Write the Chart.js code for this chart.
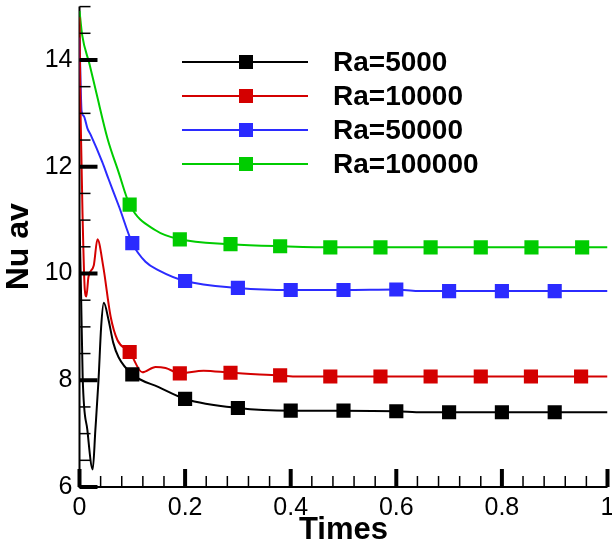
<!DOCTYPE html>
<html>
<head>
<meta charset="utf-8">
<script src="https://cdn.jsdelivr.net/npm/chart.js@4.4.1/dist/chart.umd.min.js"></script>
<style>
  html, body { margin: 0; padding: 0; background: #fff; }
  #wrap { width: 612px; height: 546px; }
</style>
</head>
<body>
<div id="wrap"><canvas id="nuChart" width="612" height="546"></canvas></div>
<script>
// series labels
const seriesNames = ['Ra=5000', 'Ra=10000', 'Ra=50000', 'Ra=100000'];
const seriesColors = ['#000000', '#d40000', '#2b2bff', '#00cc00'];

// Ra=5000
const t5000 = [0, 0.003, 0.006, 0.015, 0.025, 0.030, 0.036, 0.041, 0.046, 0.055, 0.064, 0.074, 0.1, 0.15, 0.2, 0.3, 0.4, 0.5, 0.6, 0.65, 0.7, 0.8, 0.9, 1.0];
const nu5000 = [11.0, 9.6, 8.06, 7.06, 6.33, 7.06, 8.0, 9.0, 9.45, 9.13, 8.70, 8.43, 8.11, 7.87, 7.65, 7.48, 7.43, 7.43, 7.42, 7.40, 7.40, 7.40, 7.40, 7.40];
const mk5000 = [0.1, 0.2, 0.3, 0.4, 0.5, 0.6, 0.7, 0.8, 0.9];

// Ra=10000
const t10000 = [0, 0.002, 0.006, 0.010, 0.013, 0.017, 0.027, 0.034, 0.045, 0.059, 0.072, 0.095, 0.119, 0.144, 0.163, 0.19, 0.235, 0.286, 0.38, 0.413, 0.475, 0.57, 0.665, 0.76, 0.855, 0.95, 1.0];
const nu10000 = [14.8, 13.0, 11.0, 9.7, 9.57, 9.94, 10.15, 10.64, 10.13, 9.19, 8.75, 8.53, 8.15, 8.25, 8.23, 8.13, 8.18, 8.14, 8.09, 8.07, 8.07, 8.07, 8.07, 8.07, 8.07, 8.07, 8.07];
const mk10000 = [0.095, 0.19, 0.286, 0.38, 0.475, 0.57, 0.665, 0.76, 0.855, 0.95];

// Ra=50000
const t50000 = [0, 0.004, 0.008, 0.015, 0.021, 0.043, 0.055, 0.075, 0.1, 0.125, 0.15, 0.2, 0.3, 0.4, 0.5, 0.6, 0.64, 0.7, 0.8, 0.9, 1.0];
const nu50000 = [14.42, 13.04, 12.95, 12.72, 12.6, 12.09, 11.77, 11.25, 10.57, 10.22, 10.06, 9.86, 9.73, 9.69, 9.69, 9.70, 9.67, 9.67, 9.67, 9.67, 9.67];
const mk50000 = [0.1, 0.2, 0.3, 0.4, 0.5, 0.6, 0.7, 0.8, 0.9];

// Ra=100000
const t100000 = [0, 0.005, 0.019, 0.032, 0.053, 0.074, 0.095, 0.144, 0.19, 0.286, 0.38, 0.475, 0.57, 0.665, 0.76, 0.856, 0.952, 1.0];
const nu100000 = [14.92, 14.47, 13.92, 13.38, 12.53, 11.9, 11.29, 10.81, 10.64, 10.55, 10.51, 10.49, 10.49, 10.49, 10.49, 10.49, 10.49, 10.49];
const mk100000 = [0.095, 0.19, 0.286, 0.38, 0.475, 0.57, 0.665, 0.76, 0.856, 0.952];

// tick labels
const xTicks = [0, 0.2, 0.4, 0.6, 0.8, 1];
const yTicks = [6, 8, 10, 12, 14];

const allT = [t5000, t10000, t50000, t100000];
const allNu = [nu5000, nu10000, nu50000, nu100000];
const allMk = [mk5000, mk10000, mk50000, mk100000];

const FONT = "'Liberation Sans', Arial, sans-serif";
const MARK_R = 10;

function isMarker(list, x) {
  return list.some(m => Math.abs(m - x) < 1e-9);
}

const datasets = seriesNames.map((name, i) => ({
  label: name,
  data: allT[i].map((t, j) => ({ x: t, y: allNu[i][j] })),
  borderColor: seriesColors[i],
  backgroundColor: seriesColors[i],
  borderWidth: 2,
  showLine: true,
  cubicInterpolationMode: 'monotone',
  pointStyle: 'rect',
  pointRadius: ctx => isMarker(allMk[i], ctx.raw.x) ? MARK_R : 0,
  pointHoverRadius: 0,
  pointBorderWidth: 0
}));

// axis lines + inward ticks, like the original plot
const axisPlugin = {
  id: 'inwardAxes',
  beforeDatasetsDraw(chart) {
    const { ctx, chartArea: a } = chart;
    ctx.save();
    ctx.strokeStyle = '#000';
    ctx.lineWidth = 2;
    ctx.beginPath();
    ctx.moveTo(a.left, a.top);
    ctx.lineTo(a.left, a.bottom);
    ctx.lineTo(a.right, a.bottom);
    ctx.stroke();
    ctx.restore();
  },
  afterDatasetsDraw(chart) {
    const { ctx, chartArea: a, scales: { x, y } } = chart;
    ctx.save();
    ctx.strokeStyle = '#000';
    // minor
    ctx.lineWidth = 1.5;
    for (let k = 0; k <= 25; k++) {
      const px = x.getPixelForValue(k * 0.04);
      ctx.beginPath(); ctx.moveTo(px, a.bottom); ctx.lineTo(px, a.bottom - 11); ctx.stroke();
    }
    for (let k = 0; k <= 18; k++) {
      const py = y.getPixelForValue(6 + k * 0.5);
      ctx.beginPath(); ctx.moveTo(a.left, py); ctx.lineTo(a.left + 11, py); ctx.stroke();
    }
    // major
    ctx.lineWidth = 4;
    xTicks.forEach(v => {
      const px = x.getPixelForValue(v);
      ctx.beginPath(); ctx.moveTo(px, a.bottom); ctx.lineTo(px, a.bottom - 18); ctx.stroke();
    });
    yTicks.forEach(v => {
      const py = y.getPixelForValue(v);
      ctx.beginPath(); ctx.moveTo(a.left, py); ctx.lineTo(a.left + 18, py); ctx.stroke();
    });
    ctx.restore();
  }
};

// legend drawn as line + square marker + bold text
const legendPlugin = {
  id: 'lineLegend',
  afterDraw(chart) {
    const ctx = chart.ctx;
    const rows = [62, 96, 130, 164];
    ctx.save();
    chart.data.datasets.forEach((ds, i) => {
      const yy = rows[i];
      ctx.strokeStyle = ds.borderColor;
      ctx.lineWidth = 2;
      ctx.beginPath(); ctx.moveTo(182, yy); ctx.lineTo(308, yy); ctx.stroke();
      ctx.fillStyle = ds.borderColor;
      ctx.fillRect(246 - 7, yy - 7, 14, 14);
      ctx.fillStyle = '#000';
      ctx.font = 'bold 28px ' + FONT;
      ctx.textBaseline = 'middle';
      ctx.textAlign = 'left';
      ctx.fillText(ds.label, 333, yy + 1);
    });
    ctx.restore();
  }
};

new Chart(document.getElementById('nuChart').getContext('2d'), {
  type: 'scatter',
  data: { datasets: datasets },
  plugins: [axisPlugin, legendPlugin],
  options: {
    responsive: false,
    animation: false,
    events: [],
    layout: { padding: { top: 6.6, right: 4.5, left: 0, bottom: 0 } },
    plugins: { legend: { display: false }, tooltip: { enabled: false } },
    scales: {
      x: {
        type: 'linear',
        min: 0,
        max: 1,
        grid: { display: false },
        border: { display: false },
        afterBuildTicks: s => { s.ticks = xTicks.map(v => ({ value: v })); },
        afterFit: s => { s.height = 59; s.paddingLeft = 0; s.paddingRight = 0; },
        ticks: {
          color: '#000',
          padding: 1,
          font: { family: FONT, size: 25, lineHeight: 1.0 },
          maxRotation: 0,
          callback: v => String(v)
        },
        title: {
          display: true,
          text: 'Times',
          color: '#000',
          font: { family: FONT, size: 31, weight: 'bold', lineHeight: 1.0 },
          padding: { top: 0, bottom: 0 }
        }
      },
      y: {
        type: 'linear',
        min: 6,
        max: 15,
        grid: { display: false },
        border: { display: false },
        afterBuildTicks: s => { s.ticks = yTicks.map(v => ({ value: v })); },
        afterFit: s => { s.width = 79.5; s.paddingTop = 0; s.paddingBottom = 0; },
        ticks: {
          color: '#000',
          padding: -1,
          font: { family: FONT, size: 25 },
          callback: v => String(v)
        },
        title: {
          display: true,
          text: 'Nu av',
          color: '#000',
          font: { family: FONT, size: 32, weight: 'bold', lineHeight: 1.1 },
          padding: { top: 2, bottom: 0 }
        }
      }
    }
  }
});
</script>
</body>
</html>
